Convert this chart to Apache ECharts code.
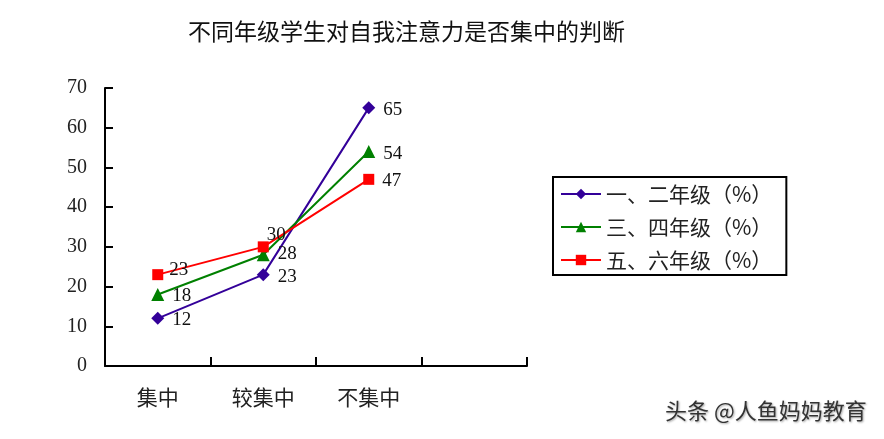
<!DOCTYPE html>
<html><head><meta charset="utf-8">
<script src="https://cdn.jsdelivr.net/npm/echarts@6/dist/echarts.min.js"></script>
<style>html,body{margin:0;padding:0;background:#fff}#c{width:884px;height:439px}</style>
</head><body><div id="c"></div>
<script>
const titleText = '不同年级学生对自我注意力是否集中的判断';
const categories = ['集中', '较集中', '不集中', ''];
const seriesNames = ['一、二年级（%）', '三、四年级（%）', '五、六年级（%）'];
const grade12 = [12, 23, 65];
const grade34 = [18, 28, 54];
const grade56 = [23, 30, 47];
const yTicks = [0, 10, 20, 30, 40, 50, 60, 70];

const cjk = '"Noto Sans CJK SC", sans-serif';
const num = '"Liberation Serif", serif';
const colors = ['#330099', '#008000', '#FF0000'];
const symbols = ['diamond', 'triangle', 'rect'];
const symbolSizes = [13, 13, 11];
const labelOffsets = [
  [[0, 2], [0, 2], [0, 2]],
  [[0, 2], [0, -1], [0, 2]],
  [[-2, -5], [-10, -12], [0, 2]]
];

const chart = echarts.init(document.getElementById('c'));
const series = [grade12, grade34, grade56].map((vals, s) => ({
  name: seriesNames[s],
  type: 'line',
  data: vals.map((v, i) => ({ value: v, label: { offset: labelOffsets[s][i] } })),
  symbol: symbols[s],
  symbolSize: symbolSizes[s],
  lineStyle: { color: colors[s], width: 2 },
  itemStyle: { color: colors[s] },
  label: { show: true, position: 'right', distance: 8, color: '#111', fontFamily: num, fontSize: 19 },
  emphasis: { disabled: true },
  animation: false
}));

chart.setOption({
  animation: false,
  title: {
    text: titleText, left: 183, top: 15,
    textStyle: { fontFamily: cjk, fontSize: 23, fontWeight: 'normal', color: '#111' }
  },
  grid: { left: 105, right: 357, top: 88, bottom: 73 },
  legend: {
    orient: 'vertical', left: 553, top: 177,
    padding: [6, 14, 4, 7],
    itemGap: 11, itemWidth: 40, itemHeight: 13,
    borderColor: '#000', borderWidth: 2,
    textStyle: { fontFamily: cjk, fontSize: 21, lineHeight: 22, color: '#222' },
    data: seriesNames
  },
  xAxis: {
    type: 'category', data: categories, boundaryGap: true,
    axisLine: { show: true, lineStyle: { color: '#000', width: 2 } },
    axisTick: { show: true, interval: 0, inside: true, length: 9, lineStyle: { color: '#000', width: 2 } },
    axisLabel: { fontFamily: cjk, fontSize: 21, color: '#222', margin: 21 }
  },
  yAxis: {
    type: 'value', min: yTicks[0], max: yTicks[yTicks.length - 1], interval: 10,
    splitLine: { show: false },
    axisLine: { show: true, lineStyle: { color: '#000', width: 2 } },
    axisTick: { show: true, inside: true, length: 8, lineStyle: { color: '#000', width: 2 } },
    axisLabel: { fontFamily: num, fontSize: 20, color: '#222', margin: 18 }
  },
  graphic: [{
    type: 'text', left: 665, top: 400,
    style: { text: '头条 @人鱼妈妈教育', font: '22px "Noto Sans CJK SC"', fill: '#333',
      textShadowColor: 'rgba(0,0,0,0.35)', textShadowBlur: 2, textShadowOffsetX: 1, textShadowOffsetY: 1 }
  }],
  series
});
</script></body></html>
